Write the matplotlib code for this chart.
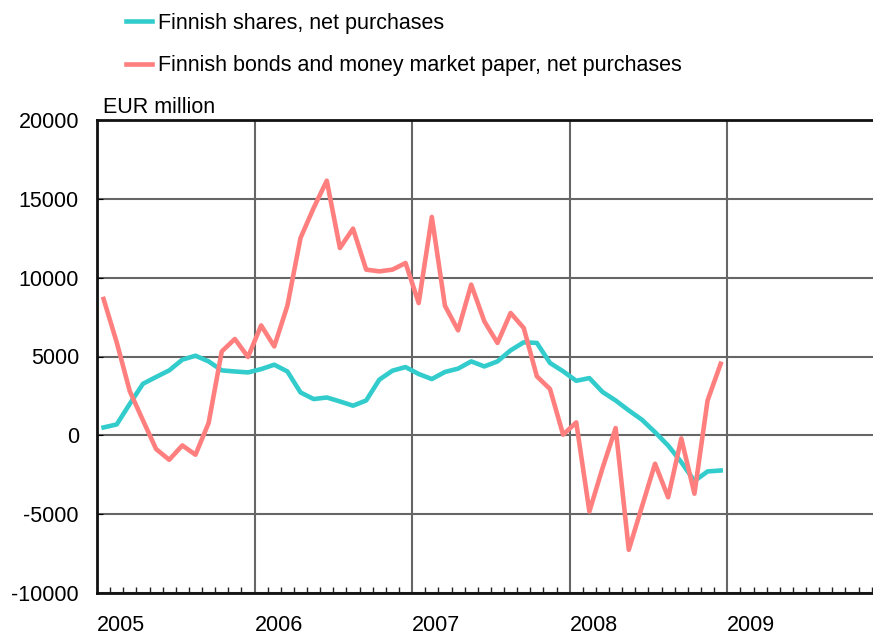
import numpy as np
import matplotlib
matplotlib.use('Agg')
import matplotlib.pyplot as plt
from matplotlib.ticker import MultipleLocator

plt.rcParams['font.family'] = ['Liberation Sans', 'DejaVu Sans']
plt.rcParams['axes.unicode_minus'] = False

years = ['2005', '2006', '2007', '2008', '2009']
# monthly values Jan 2005 - Dec 2008, EUR million
shares = [500, 690, 2000, 3270, 3700, 4120, 4800, 5050, 4690, 4120, 4050, 3990,
          4200, 4480, 4050, 2720, 2300, 2400, 2150, 1880, 2210, 3530, 4100, 4330,
          3890, 3570, 4020, 4230, 4690, 4370, 4690, 5390, 5900, 5860, 4590, 4060,
          3460, 3630, 2750, 2210, 1580, 990, 200, -650, -1700, -2900, -2290, -2230]
bonds = [8650, 5900, 2790, 950, -870, -1550, -640, -1230, 780, 5320, 6110, 4970,
         6970, 5640, 8220, 12520, 14420, 16150, 11880, 13110, 10510, 10400, 10510, 10930,
         8390, 13850, 8220, 6660, 9560, 7230, 5860, 7760, 6810, 3740, 2940, 40,
         820, -4830, -2080, 460, -7260, -4530, -1800, -3930, -200, -3700, 2210, 4540]

months = np.arange(len(shares)) + 0.5

fig = plt.figure(figsize=(8.73, 6.37), dpi=100)
ax = fig.add_axes([97/873, 1 - 593/637, 776/873, 473/637])

l1, = ax.plot(months, shares, color='#33cccc', lw=3.3, solid_joinstyle='round',
              label='Finnish shares, net purchases')
l2, = ax.plot(months, bonds, color='#ff7f7f', lw=3.3, solid_joinstyle='round',
              label='Finnish bonds and money market paper, net purchases')

ax.set_xlim(0, 59.1)
ax.set_ylim(-10000, 20000)
ax.yaxis.set_major_locator(MultipleLocator(5000))
ax.set_xticks([0, 12, 24, 36, 48])
ax.set_xticklabels(years, ha='left')
ax.xaxis.set_minor_locator(MultipleLocator(1))
ax.tick_params(axis='x', which='major', length=0, pad=16, labelsize=15.5)
ax.tick_params(axis='x', which='minor', direction='in', length=4, width=1, color='#222222')
ax.tick_params(axis='y', direction='in', length=4, pad=13, labelsize=15.5)

ax.grid(True, which='major', color='#666666', lw=1.5)
ax.set_axisbelow(True)
for s in ['left', 'bottom', 'top']:
    ax.spines[s].set_linewidth(2)
    ax.spines[s].set_color('#111111')
ax.spines['right'].set_visible(False)

ax.text(0.008, 1.005, 'EUR million', transform=ax.transAxes, fontsize=15.5,
        ha='left', va='bottom')

fig.legend(handles=[l1, l2], loc='upper left', bbox_to_anchor=(113/873, 1.0),
           frameon=False, fontsize=15.5, handlelength=1.2, handletextpad=0.3,
           labelspacing=1.0, borderaxespad=0.2)

fig.savefig('out.png', dpi=100)
